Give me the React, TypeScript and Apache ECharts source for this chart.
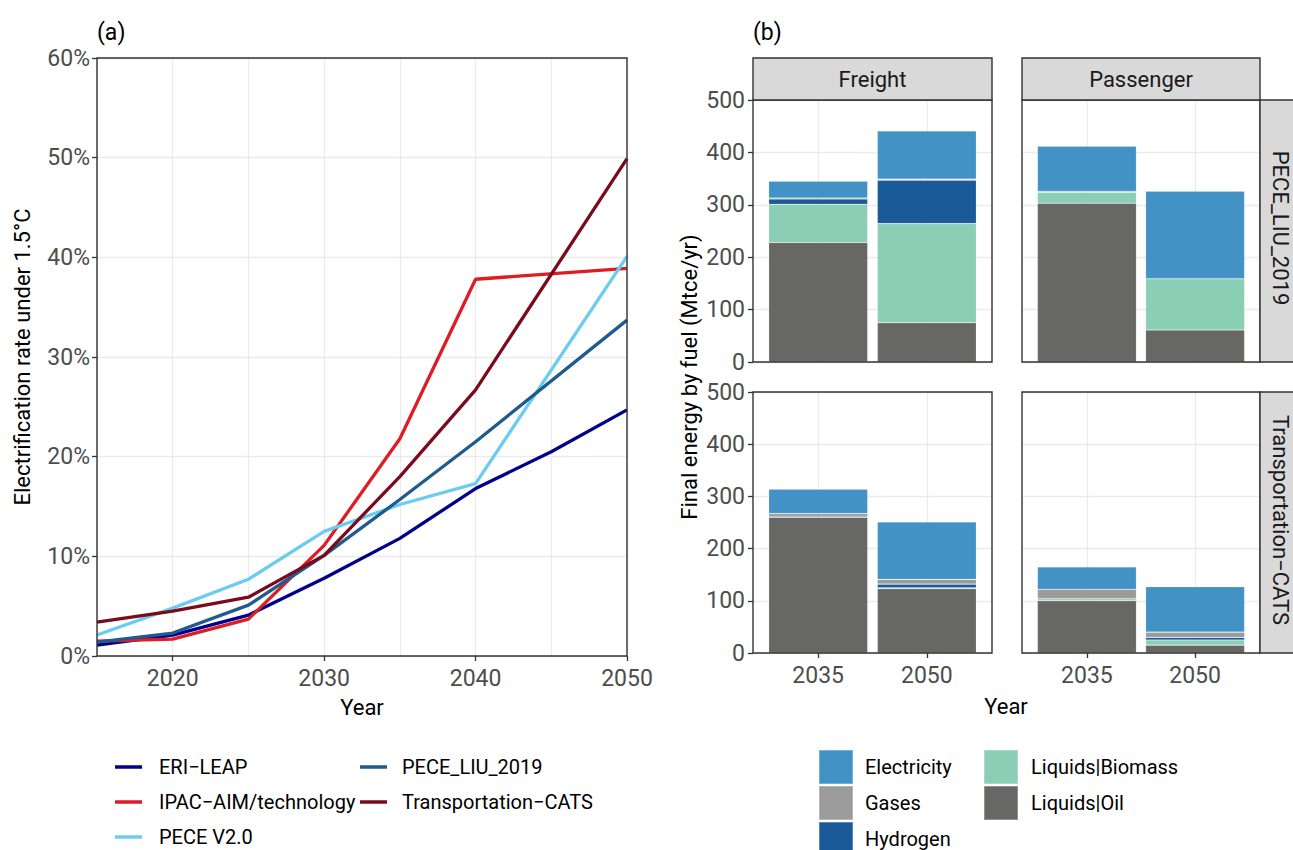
import React, { useEffect, useRef } from "react";
import * as echarts from "echarts";

// ---------- Panel (a) data ----------
const lineYears = [2015, 2020, 2025, 2030, 2035, 2040, 2045, 2050];
const eriLeap = [1.1, 2.1, 4.1, 7.8, 11.8, 16.8, 20.5, 24.7];
const ipacAim = [1.5, 1.7, 3.7, 11.1, 21.8, 37.8, null, 38.9];
const peceV2 = [2.1, 4.8, 7.7, 12.5, 15.2, 17.3, null, 40.1];
const peceLiu = [1.4, 2.3, 5.1, 10.1, 15.7, 21.5, null, 33.7];
const transCats = [3.4, 4.5, 5.9, 10.1, 18.0, 26.7, null, 49.9];

const lineNames = ["ERI−LEAP", "IPAC−AIM/technology", "PECE V2.0", "PECE_LIU_2019", "Transportation−CATS"];
const lineColors = ["#00008B", "#DE1C24", "#6CCBF1", "#1F5B8C", "#7B0A1D"];
const lineValues = [eriLeap, ipacAim, peceV2, peceLiu, transCats];
const xTicksA = [2020, 2030, 2040, 2050];

// ---------- Panel (b) data ----------
const barYears = ["2035", "2050"];
const fuels = ["Liquids|Oil", "Liquids|Biomass", "Hydrogen", "Gases", "Electricity"];
const fuelColors = ["#676866", "#8ACEB5", "#1A5A99", "#9B9B9B", "#4292C5"];
// per facet, per fuel: [2035, 2050]
const freightPece = [[228, 75], [73, 189], [10, 83], [2, 2], [32, 92]];
const passengerPece = [[303, 61], [21, 98], [0, 0], [2, 0], [86, 167]];
const freightCats = [[260, 123], [0, 2], [2, 7], [5, 9], [47, 110]];
const passengerCats = [[100, 15], [4, 10], [0, 5], [18, 10], [43, 87]];
const facetData = [freightPece, passengerPece, freightCats, passengerCats];
const colNames = ["Freight", "Passenger"];
const rowNames = ["PECE_LIU_2019", "Transportation−CATS"];

const FONT = "Roboto";
const TICK_COLOR = "#4D4D4D";
const GRID_LINE = "#EBEBEB";
const BORDER = "#333333";
const TICK_SIZE = 23;
const TITLE_SIZE = 22;

export default function App() {
  const ref = useRef<HTMLDivElement>(null);
  useEffect(() => {
    if (!ref.current) return;
    const chart = echarts.init(ref.current, null, { renderer: "svg" });

    const panelA = { left: 97, top: 58, width: 530, height: 598 };
    const frames = [
      { left: 753, top: 100, width: 239, height: 262 },
      { left: 1022, top: 100, width: 238, height: 262 },
      { left: 753, top: 392, width: 239, height: 261 },
      { left: 1022, top: 392, width: 238, height: 261 },
    ];
    // inner grids for bars (category centres at 0.6/2.2 and 1.6/2.2 of the frame)
    const barGrids = frames.map((f) => {
      const unit = f.width / 2.2;
      const w = unit * 2;
      return { left: f.left + 0.6 * unit - w / 4, top: f.top, width: w, height: f.height };
    });

    const grids: any[] = [panelA, ...frames, ...barGrids].map((g) => ({ ...g, show: false, containLabel: false }));

    const xAxes: any[] = [
      {
        type: "value", gridIndex: 0, min: 2015, max: 2050, interval: 5,
        axisLine: { show: false }, axisTick: { show: false },
        splitLine: { show: true, lineStyle: { color: GRID_LINE, width: 1.3 } },
        axisLabel: {
          color: TICK_COLOR, fontSize: TICK_SIZE, fontFamily: FONT, margin: 11,
          formatter: (v: number) => (xTicksA.indexOf(v) >= 0 ? String(v) : ""),
        },
        name: "Year", nameLocation: "middle", nameGap: 40,
        nameTextStyle: { color: "#000", fontSize: TITLE_SIZE, fontFamily: FONT },
      },
      {
        type: "value", gridIndex: 0, min: 2015, max: 2050, position: "bottom",
        axisLine: { show: false },
        axisTick: { show: true, length: 5, lineStyle: { color: BORDER, width: 1.3 }, customValues: xTicksA },
        axisLabel: { show: false }, splitLine: { show: false },
      },
    ];
    frames.forEach((_, i) => {
      const bottom = i >= 2;
      xAxes.push({
        type: "value", gridIndex: i + 1, min: 0.4, max: 2.6,
        axisLine: { show: false },
        axisTick: { show: bottom, length: 5, lineStyle: { color: BORDER, width: 1.3 }, customValues: [1, 2] },
        axisLabel: {
          show: bottom, customValues: [1, 2], color: TICK_COLOR, fontSize: TICK_SIZE, fontFamily: FONT, margin: 11,
          formatter: (v: number) => barYears[Math.round(v) - 1] ?? "",
        },
        splitLine: { show: true, lineStyle: { color: GRID_LINE, width: 1.3 } },
      });
    });
    barGrids.forEach((_, i) => {
      xAxes.push({ type: "category", gridIndex: i + 5, data: barYears, show: false, boundaryGap: true });
    });

    const yAxes: any[] = [
      {
        type: "value", gridIndex: 0, min: 0, max: 60, interval: 10,
        axisLine: { show: false },
        axisTick: { show: true, length: 5, lineStyle: { color: BORDER, width: 1.3 } },
        axisLabel: { color: TICK_COLOR, fontSize: TICK_SIZE, fontFamily: FONT, margin: 7, formatter: (v: number) => v + "%" },
        splitLine: { show: true, lineStyle: { color: GRID_LINE, width: 1.3 } },
        name: "Electrification rate under 1.5°C", nameLocation: "middle", nameGap: 64, nameRotate: 90,
        nameTextStyle: { color: "#000", fontSize: TITLE_SIZE, fontFamily: FONT },
      },
    ];
    frames.forEach((_, i) => {
      const leftCol = i % 2 === 0;
      yAxes.push({
        type: "value", gridIndex: i + 1, min: 0, max: 500, interval: 100,
        axisLine: { show: false },
        axisTick: { show: leftCol, length: 5, lineStyle: { color: BORDER, width: 1.3 } },
        axisLabel: { show: leftCol, color: TICK_COLOR, fontSize: TICK_SIZE, fontFamily: FONT, margin: 8 },
        splitLine: { show: true, lineStyle: { color: GRID_LINE, width: 1.3 } },
      });
    });
    barGrids.forEach((_, i) => {
      yAxes.push({ type: "value", gridIndex: i + 5, min: 0, max: 500, show: false, splitLine: { show: false } });
    });

    const series: any[] = [];
    lineNames.forEach((name, k) => {
      series.push({
        type: "line", name, xAxisIndex: 0, yAxisIndex: 0,
        data: lineYears.map((yr, j) => [yr, lineValues[k][j]]),
        connectNulls: true, symbol: "none",
        lineStyle: { color: lineColors[k], width: 3.3 },
        itemStyle: { color: lineColors[k] },
        clip: true, z: 3,
      });
    });
    facetData.forEach((facet, i) => {
      fuels.forEach((fuel, f) => {
        series.push({
          type: "bar", name: fuel, stack: "facet" + i,
          xAxisIndex: i + 6, yAxisIndex: i + 5, barWidth: 99,
          data: facet[f],
          itemStyle: { color: fuelColors[f], borderColor: "rgba(255,255,255,0.28)", borderWidth: 0.6 },
        });
      });
    });

    const legendText = { color: "#000", fontSize: 20, fontFamily: FONT, lineHeight: 20 };
    const legends: any[] = [
      {
        left: 115, top: 757, height: 200, padding: 0, orient: "vertical", data: lineNames.slice(0, 3), icon: "rect",
        itemWidth: 27, itemHeight: 3.5, itemGap: 15, selectedMode: false,
        textStyle: { ...legendText, padding: [0, 0, 0, 12] },
      },
      {
        left: 360, top: 757, height: 200, padding: 0, orient: "vertical", data: lineNames.slice(3), icon: "rect",
        itemWidth: 27, itemHeight: 3.5, itemGap: 15, selectedMode: false,
        textStyle: { ...legendText, padding: [0, 0, 0, 10] },
      },
      {
        left: 818, top: 749, height: 200, padding: 0, orient: "vertical", data: ["Electricity", "Gases", "Hydrogen"], icon: "rect",
        itemWidth: 34, itemHeight: 34, itemGap: 0, selectedMode: false,
        textStyle: { ...legendText, padding: [0, 0, 0, 7] },
      },
      {
        left: 983, top: 749, height: 200, padding: 0, orient: "vertical", data: ["Liquids|Biomass", "Liquids|Oil"], icon: "rect",
        itemWidth: 34, itemHeight: 34, itemGap: 0, selectedMode: false,
        textStyle: { ...legendText, padding: [0, 0, 0, 8] },
      },
    ];

    const stripFill = "#D9D9D9";
    const border = (g: any) => ({
      type: "rect", z: 100, silent: true,
      shape: { x: g.left, y: g.top, width: g.width, height: g.height },
      style: { fill: "none", stroke: BORDER, lineWidth: 1.4 },
    });
    const graphic: any[] = [
      { type: "text", x: 97, y: 32, style: { text: "(a)", fontSize: 23, fontFamily: FONT, fill: "#000", verticalAlign: "middle" } },
      { type: "text", x: 753, y: 32, style: { text: "(b)", fontSize: 23, fontFamily: FONT, fill: "#000", verticalAlign: "middle" } },
      border(panelA),
      ...frames.map(border),
      // column strips
      { type: "rect", z: 100, shape: { x: 753, y: 58, width: 239, height: 42 }, style: { fill: stripFill, stroke: BORDER, lineWidth: 1.4 } },
      { type: "rect", z: 100, shape: { x: 1022, y: 58, width: 238, height: 42 }, style: { fill: stripFill, stroke: BORDER, lineWidth: 1.4 } },
      { type: "text", z: 101, x: 872.5, y: 79, style: { text: colNames[0], fontSize: TITLE_SIZE, fontFamily: FONT, fill: "#1A1A1A", align: "center", verticalAlign: "middle" } },
      { type: "text", z: 101, x: 1141, y: 79, style: { text: colNames[1], fontSize: TITLE_SIZE, fontFamily: FONT, fill: "#1A1A1A", align: "center", verticalAlign: "middle" } },
      // row strips
      { type: "rect", z: 100, shape: { x: 1260, y: 100, width: 42, height: 262 }, style: { fill: stripFill, stroke: BORDER, lineWidth: 1.4 } },
      { type: "rect", z: 100, shape: { x: 1260, y: 392, width: 42, height: 261 }, style: { fill: stripFill, stroke: BORDER, lineWidth: 1.4 } },
      { type: "text", z: 101, x: 1280, y: 228, rotation: -Math.PI / 2, style: { text: rowNames[0], fontSize: TITLE_SIZE, fontFamily: FONT, fill: "#1A1A1A", align: "center", verticalAlign: "middle" } },
      { type: "text", z: 101, x: 1280, y: 520, rotation: -Math.PI / 2, style: { text: rowNames[1], fontSize: TITLE_SIZE, fontFamily: FONT, fill: "#1A1A1A", align: "center", verticalAlign: "middle" } },
      // axis titles for (b)
      { type: "text", x: 1006, y: 706, style: { text: "Year", fontSize: TITLE_SIZE, fontFamily: FONT, fill: "#000", align: "center", verticalAlign: "middle" } },
      { type: "text", x: 689, y: 377, rotation: Math.PI / 2, style: { text: "Final energy by fuel (Mtce/yr)", fontSize: TITLE_SIZE, fontFamily: FONT, fill: "#000", align: "center", verticalAlign: "middle" } },
    ];

    chart.setOption({
      animation: false,
      backgroundColor: "#FFFFFF",
      textStyle: { fontFamily: FONT },
      grid: grids,
      xAxis: xAxes,
      yAxis: yAxes,
      legend: legends,
      series,
      graphic,
    });
    return () => chart.dispose();
  }, []);

  return <div ref={ref} style={{ position: "fixed", left: 0, top: 0, width: 1293, height: 850 }} />;
}
